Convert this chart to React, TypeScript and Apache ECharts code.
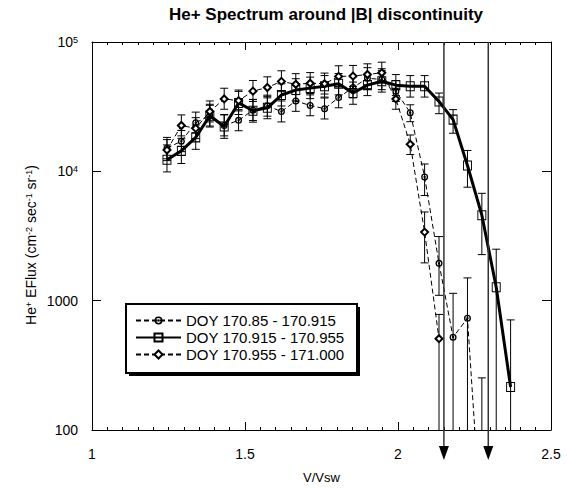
import React, { useEffect, useRef } from 'react';
import * as echarts from 'echarts';

// V/Vsw bins
const vRatio = [1.245, 1.292, 1.339, 1.385, 1.432, 1.479, 1.526, 1.573, 1.619, 1.666, 1.713, 1.76, 1.806, 1.853, 1.9, 1.947, 1.993, 2.04, 2.087, 2.134, 2.18, 2.227, 2.274, 2.321, 2.368];

// DOY 170.85 - 170.915 (circles, dashed)
const doy1Name = 'DOY 170.85 - 170.915';
const doy1Flux = [15100, 17100, 23800, 26900, 22600, 24800, 29700, 32100, 29000, 35000, 32300, 30500, 37200, 44500, 52400, 51400, 41700, 28400, 9060, 1945, 522, 731, 15];
const doy1Lo = [12500, 14200, 19800, 22400, 18800, 20600, 24700, 26700, 24100, 29100, 26900, 25400, 31000, 37000, 43600, 42800, 34700, 24200, 6500, 1100, 1, 1, 1];
const doy1Hi = [18300, 20700, 28700, 32400, 27300, 30000, 35900, 38800, 35000, 42300, 39000, 36900, 45000, 53800, 63300, 62100, 50400, 32700, 11400, 3130, 1140, 1500, 253];

// DOY 170.915 - 170.955 (squares, thick solid)
const doy2Name = 'DOY 170.915 - 170.955';
const doy2Flux = [12300, 14400, 18300, 26900, 22200, 33800, 29400, 31000, 38900, 42500, 44000, 45500, 47500, 40300, 46400, 49700, 46400, 45500, 45500, 34700, 25100, 11100, 4580, 1270, 215];
const doy2Lo = [9900, 11500, 14800, 22000, 18000, 27500, 24000, 25500, 32000, 35000, 36500, 37500, 39000, 33000, 38500, 41000, 38500, 37500, 37500, 27900, 19700, 7540, 2270, 1, 1];
const doy2Hi = [16000, 18000, 22800, 33000, 27500, 41500, 36000, 38000, 47500, 52000, 53500, 55000, 57000, 49000, 56000, 60000, 56000, 55000, 55000, 40300, 30000, 14500, 6760, 2500, 710];

// DOY 170.955 - 171.000 (diamonds, dashed)
const doy3Name = 'DOY 170.955 - 171.000';
const doy3Flux = [14600, 22600, 21500, 29000, 36300, 35200, 41700, 44500, 49600, 47100, 48000, 47600, 54200, 54500, 56100, 57800, 36300, 16200, 3390, 508];
const doy3Lo = [12100, 18800, 17900, 24100, 30200, 29300, 34700, 37000, 41300, 39200, 40000, 39600, 45100, 45400, 46700, 48100, 30200, 13500, 1960, 1];
const doy3Hi = [17600, 27300, 26000, 35000, 43900, 42500, 50400, 53800, 59900, 56900, 58000, 57500, 65500, 65900, 67800, 69800, 43900, 19100, 4850, 783];

// discontinuity markers (V/Vsw)
const arrowPositions = [2.15, 2.295];

// y tick labels
const yTickValues = [100, 1000, 10000, 100000];
const yTickLabels = ['100', '1000', '10{s|4}', '10{s|5}'];

const FONT = 'Liberation Sans, Arial, sans-serif';

const ringDot =
  'path://M5,0A5,5,0,1,1,5,10A5,5,0,1,1,5,0ZM5,1.9A3.1,3.1,0,1,0,5,8.1A3.1,3.1,0,1,0,5,1.9ZM5,3.3A1.7,1.7,0,1,1,5,6.7A1.7,1.7,0,1,1,5,3.3Z';

function pts(vals: number[]) {
  return vals.map((v, i) => [vRatio[i], v]);
}
function errPts(lo: number[], hi: number[]) {
  return lo.map((l, i) => [vRatio[i], l, hi[i]]);
}

function errSeries(name: string, lo: number[], hi: number[]) {
  return {
    type: 'custom',
    name,
    data: errPts(lo, hi),
    encode: { x: 0, y: [1, 2] },
    clip: true,
    z: 2,
    silent: true,
    renderItem: (params: any, api: any) => {
      const x = api.value(0);
      const a = api.coord([x, api.value(1)]);
      const b = api.coord([x, api.value(2)]);
      const w = 4;
      const st = { stroke: '#000', lineWidth: 1 };
      return {
        type: 'group',
        children: [
          { type: 'line', shape: { x1: a[0], y1: a[1], x2: b[0], y2: b[1] }, style: st },
          { type: 'line', shape: { x1: a[0] - w, y1: a[1], x2: a[0] + w, y2: a[1] }, style: st },
          { type: 'line', shape: { x1: b[0] - w, y1: b[1], x2: b[0] + w, y2: b[1] }, style: st },
        ],
      };
    },
  };
}

export default function App() {
  const ref = useRef<HTMLDivElement>(null);
  useEffect(() => {
    if (!ref.current) return;
    const chart = echarts.init(ref.current, undefined, { renderer: 'svg' });
    const axisCommonX = {
      type: 'value',
      min: 1,
      max: 2.5,
      interval: 0.5,
      axisLine: { show: true, onZero: false, lineStyle: { color: '#000', width: 1 } },
      axisTick: { show: true, inside: true, length: 8, lineStyle: { color: '#000' } },
      minorTick: { show: true, splitNumber: 10, length: 3, lineStyle: { color: '#000' } },
      splitLine: { show: false },
      minorSplitLine: { show: false },
    };
    const axisCommonY = {
      type: 'log',
      logBase: 10,
      min: 100,
      max: 100000,
      axisLine: { show: true, lineStyle: { color: '#000', width: 1 } },
      axisTick: { show: true, inside: true, length: 9, lineStyle: { color: '#000' } },
      splitLine: { show: false },
    };
    const option: any = {
      animation: false,
      backgroundColor: '#fff',
      title: {
        text: 'He+ Spectrum around |B| discontinuity',
        left: 321,
        top: 1,
        textAlign: 'center',
        textStyle: { fontFamily: FONT, fontSize: 17, fontWeight: 'bold', color: '#000' },
      },
      grid: { left: 92, right: 16, top: 42, bottom: 52, containLabel: false },
      xAxis: [
        {
          ...axisCommonX,
          position: 'bottom',
          name: 'V/Vsw',
          nameLocation: 'middle',
          nameGap: 41,
          nameTextStyle: { fontFamily: FONT, fontSize: 13, color: '#000' },
          axisLabel: { show: true, margin: 17, fontFamily: FONT, fontSize: 14, color: '#000' },
        },
        {
          ...axisCommonX,
          position: 'top',
          axisLabel: { show: false },
        },
      ],
      yAxis: [
        {
          ...axisCommonY,
          position: 'left',
          axisLabel: {
            show: true,
            margin: 14,
            fontFamily: FONT,
            fontSize: 14,
            color: '#000',
            formatter: (v: number) => {
              const idx = yTickValues.findIndex((t) => Math.abs(t - v) / t < 1e-6);
              return idx >= 0 ? yTickLabels[idx] : '';
            },
            rich: {
              s: { fontFamily: FONT, fontSize: 9, color: '#000', verticalAlign: 'top', padding: [0, 0, 4, 0] },
            },
          },
        },
        {
          ...axisCommonY,
          position: 'right',
          axisLabel: { show: false },
        },
      ],
      legend: {
        data: [doy1Name, doy2Name, doy3Name],
        orient: 'vertical',
        left: 130,
        top: 308,
        itemWidth: 45,
        itemHeight: 10,
        itemGap: 2,
        textStyle: { fontFamily: FONT, fontSize: 15, color: '#000' },
        selectedMode: false,
      },
      graphic: [
        { type: 'rect', shape: { x: 129, y: 307, width: 231, height: 69 }, style: { fill: '#000' } },
        { type: 'rect', shape: { x: 126, y: 304, width: 231, height: 69 }, style: { fill: '#fff', stroke: '#000', lineWidth: 2 } },
        {
          type: 'text',
          x: 31,
          y: 245,
          rotation: Math.PI / 2,
          style: {
            text: '{n|He}{s|+}{n| EFlux (cm}{s|-2}{n| sec}{s|-1}{n| sr}{s|-1}{n|)}',
            align: 'center',
            verticalAlign: 'middle',
            fill: '#000',
            rich: {
              n: { fontFamily: FONT, fontSize: 14, fill: '#000' },
              s: { fontFamily: FONT, fontSize: 9, fill: '#000', verticalAlign: 'top' },
            },
          },
        },
      ],
      series: [
        errSeries('err1', doy1Lo, doy1Hi),
        errSeries('err2', doy2Lo, doy2Hi),
        errSeries('err3', doy3Lo, doy3Hi),
        {
          name: doy1Name,
          type: 'line',
          data: pts(doy1Flux),
          symbol: ringDot,
          symbolSize: 7,
          clip: true,
          z: 3,
          lineStyle: { color: '#000', width: 1, type: [5, 3] },
          itemStyle: { color: '#000', borderWidth: 0 },
        },
        {
          name: doy2Name,
          type: 'line',
          data: pts(doy2Flux),
          symbol: 'rect',
          symbolSize: [8, 9],
          clip: true,
          z: 3,
          lineStyle: { color: '#000', width: 3, type: 'solid' },
          itemStyle: { color: 'rgba(255,255,255,0)', borderColor: '#000', borderWidth: 1 },
        },
        {
          name: doy3Name,
          type: 'line',
          data: pts(doy3Flux),
          symbol: 'emptyDiamond',
          symbolSize: 7,
          clip: true,
          z: 3,
          lineStyle: { color: '#000', width: 1, type: [5, 3] },
          itemStyle: { color: '#000', borderColor: '#000', borderWidth: 1 },
        },
        {
          type: 'custom',
          name: 'arrows',
          data: arrowPositions.map((x) => [x, 100000]),
          encode: { x: 0, y: 1 },
          clip: false,
          silent: true,
          z: 4,
          renderItem: (params: any, api: any) => {
            const top = api.coord([api.value(0), api.value(1)]);
            const cs = params.coordSys;
            const bottom = cs.y + cs.height;
            return {
              type: 'group',
              children: [
                { type: 'line', shape: { x1: top[0], y1: top[1], x2: top[0], y2: bottom + 18 }, style: { stroke: '#333', lineWidth: 1.5 } },
                {
                  type: 'polygon',
                  shape: { points: [[top[0] - 5, bottom + 16], [top[0] + 5, bottom + 16], [top[0], bottom + 30]] },
                  style: { fill: '#000' },
                },
              ],
            };
          },
        },
      ],
    };
    chart.setOption(option);
    return () => chart.dispose();
  }, []);
  return <div ref={ref} style={{ position: 'absolute', left: 0, top: 0, width: 567, height: 489 }} />;
}
